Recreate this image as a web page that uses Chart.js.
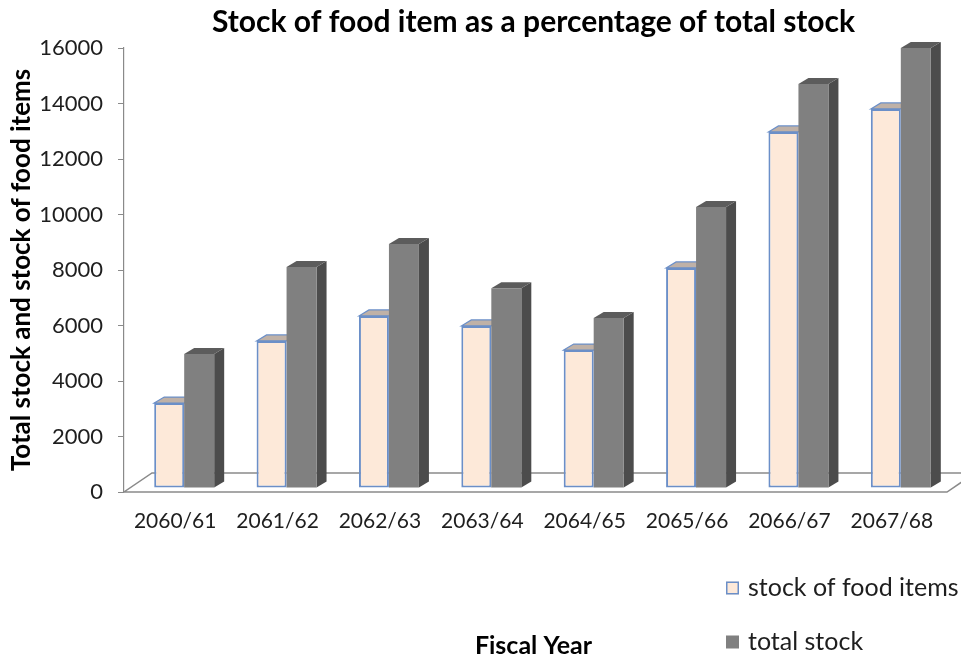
<!DOCTYPE html>
<html>
<head>
<meta charset="utf-8">
<title>Stock of food item</title>
<script src="https://cdn.jsdelivr.net/npm/chart.js@4.4.1/dist/chart.umd.min.js"></script>
<style>
  html, body { margin: 0; padding: 0; background: #fff; }
  #wrap { width: 961px; height: 661px; }
</style>
</head>
<body>
<div id="wrap"><canvas id="stockChart" width="961" height="661"></canvas></div>
<script>
// Fiscal years on the category axis
const fiscalYears = ['2060/61', '2061/62', '2062/63', '2063/64', '2064/65', '2065/66', '2066/67', '2067/68'];
// Stock of food items per year
const foodStock = [3060, 5300, 6200, 5840, 4970, 7930, 12830, 13660];
// Total stock per year
const totalStock = [4830, 7960, 8790, 7200, 6130, 10130, 14560, 15860];
// Value axis ticks
const yTickValues = [0, 2000, 4000, 6000, 8000, 10000, 12000, 14000, 16000];

const FONT = 'Lato';
const TEXT = '#1e1e1e';
const AXIS_GREY = '#8a8a8a';

// Extruded look for the columns: top and side faces plus the floor
const depth3d = {
  id: 'depth3d',
  beforeDatasetsDraw(chart, args, opts) {
    const { ctx, chartArea: a } = chart;

    // floor
    ctx.save();
    ctx.beginPath();
    ctx.moveTo(a.left, a.bottom);
    ctx.lineTo(a.right + opts.floorExtend, a.bottom);
    ctx.lineTo(a.right + opts.floorExtend + opts.floorDx, a.bottom + opts.floorDy);
    ctx.lineTo(a.left + opts.floorDx, a.bottom + opts.floorDy);
    ctx.closePath();
    ctx.strokeStyle = AXIS_GREY;
    ctx.lineWidth = 1.5;
    ctx.stroke();
    ctx.restore();

    // columns stand a little behind the front edge; restored in afterDatasetsDraw
    ctx.save();
    ctx.translate(opts.shiftX, opts.shiftY);
    const dx = opts.dx, dy = opts.dy;
    chart.data.datasets.forEach((ds, i) => {
      const meta = chart.getDatasetMeta(i);
      meta.data.forEach(bar => {
        const { x, y, base, width } = bar.getProps(['x', 'y', 'base', 'width'], true);
        const l = x - width / 2, r = x + width / 2;

        // side face
        ctx.beginPath();
        ctx.moveTo(r, y);
        ctx.lineTo(r + dx, y + dy);
        ctx.lineTo(r + dx, base + dy);
        ctx.lineTo(r, base);
        ctx.closePath();
        ctx.fillStyle = ds.sideColor;
        ctx.fill();

        // top face
        ctx.beginPath();
        ctx.moveTo(l, y);
        ctx.lineTo(l + dx, y + dy);
        ctx.lineTo(r + dx, y + dy);
        ctx.lineTo(r, y);
        ctx.closePath();
        ctx.fillStyle = ds.topColor;
        ctx.fill();
        if (ds.borderWidth) {
          ctx.strokeStyle = ds.borderColor;
          ctx.lineWidth = 1.2;
          ctx.stroke();
        }
      });
    });
  },
  afterDatasetsDraw(chart) {
    chart.ctx.restore();
  }
};

// Two-row legend at the lower right
const cornerLegend = {
  id: 'cornerLegend',
  afterDraw(chart, args, opts) {
    const ctx = chart.ctx;
    ctx.save();
    ctx.font = `${opts.fontSize}px ${FONT}`;
    ctx.textBaseline = 'middle';
    ctx.textAlign = 'left';
    chart.data.datasets.forEach((ds, i) => {
      const cy = opts.top + i * opts.rowGap;
      const s = opts.boxSize;
      ctx.fillStyle = ds.backgroundColor;
      ctx.fillRect(opts.left, cy - s / 2, s, s);
      if (ds.borderWidth) {
        ctx.strokeStyle = ds.borderColor;
        ctx.lineWidth = 1.5;
        ctx.strokeRect(opts.left + 0.75, cy - s / 2 + 0.75, s - 1.5, s - 1.5);
      }
      ctx.fillStyle = TEXT;
      ctx.fillText(ds.label, opts.left + s + opts.gap, cy);
    });
    ctx.restore();
  }
};

new Chart(document.getElementById('stockChart'), {
  type: 'bar',
  data: {
    labels: fiscalYears,
    datasets: [
      {
        label: 'stock of food items',
        data: foodStock,
        backgroundColor: '#fde9d9',
        borderColor: '#6b8fc8',
        borderWidth: 2,
        borderSkipped: false,
        topColor: '#bfb1a7',
        sideColor: '#d9c7ba'
      },
      {
        label: 'total stock',
        data: totalStock,
        backgroundColor: '#808080',
        borderWidth: 0,
        topColor: '#5c5c5c',
        sideColor: '#4c4c4c'
      }
    ]
  },
  options: {
    responsive: false,
    animation: false,
    devicePixelRatio: 1,
    clip: false,
    categoryPercentage: 0.586,
    barPercentage: 1.0,
    layout: { padding: { left: 4, right: 18, top: 0, bottom: 0 } },
    plugins: {
      legend: { display: false },
      tooltip: { enabled: false },
      title: {
        display: true,
        fullSize: false,
        text: 'Stock of food item as a percentage of total stock',
        color: '#000',
        font: { family: FONT, size: 30, weight: 'bold' },
        padding: { top: 4, bottom: 8 }
      },
      depth3d: { dx: 10, dy: -6, shiftX: 9, shiftY: -4, floorDx: 28, floorDy: -19, floorExtend: 4 },
      cornerLegend: { left: 726, top: 588, rowGap: 54, boxSize: 13, gap: 9, fontSize: 25 }
    },
    scales: {
      x: {
        grid: { display: false },
        border: { display: false },
        ticks: {
          color: TEXT,
          font: { family: FONT, size: 21 },
          padding: 9,
          maxRotation: 0,
          autoSkip: false
        },
        title: {
          display: true,
          text: 'Fiscal Year',
          color: '#000',
          font: { family: FONT, size: 25, weight: 'bold' },
          padding: { top: 90, bottom: 0 }
        },
        afterFit: axis => { axis.height = 169; }
      },
      y: {
        min: 0,
        max: 16000,
        grid: { drawOnChartArea: false, drawTicks: true, tickLength: 6, color: AXIS_GREY },
        border: { display: true, color: AXIS_GREY, width: 1.2 },
        ticks: {
          color: TEXT,
          font: { family: FONT, size: 22 },
          padding: 15,
          callback: v => String(v)
        },
        afterBuildTicks: axis => { axis.ticks = yTickValues.map(v => ({ value: v })); },
        title: {
          display: true,
          text: 'Total stock and stock of food items',
          color: '#000',
          font: { family: FONT, size: 26, weight: 'bold' },
          padding: { top: 2, bottom: 4 }
        },
        afterFit: axis => { axis.width = 120; }
      }
    }
  },
  plugins: [depth3d, cornerLegend]
});
</script>
</body>
</html>
